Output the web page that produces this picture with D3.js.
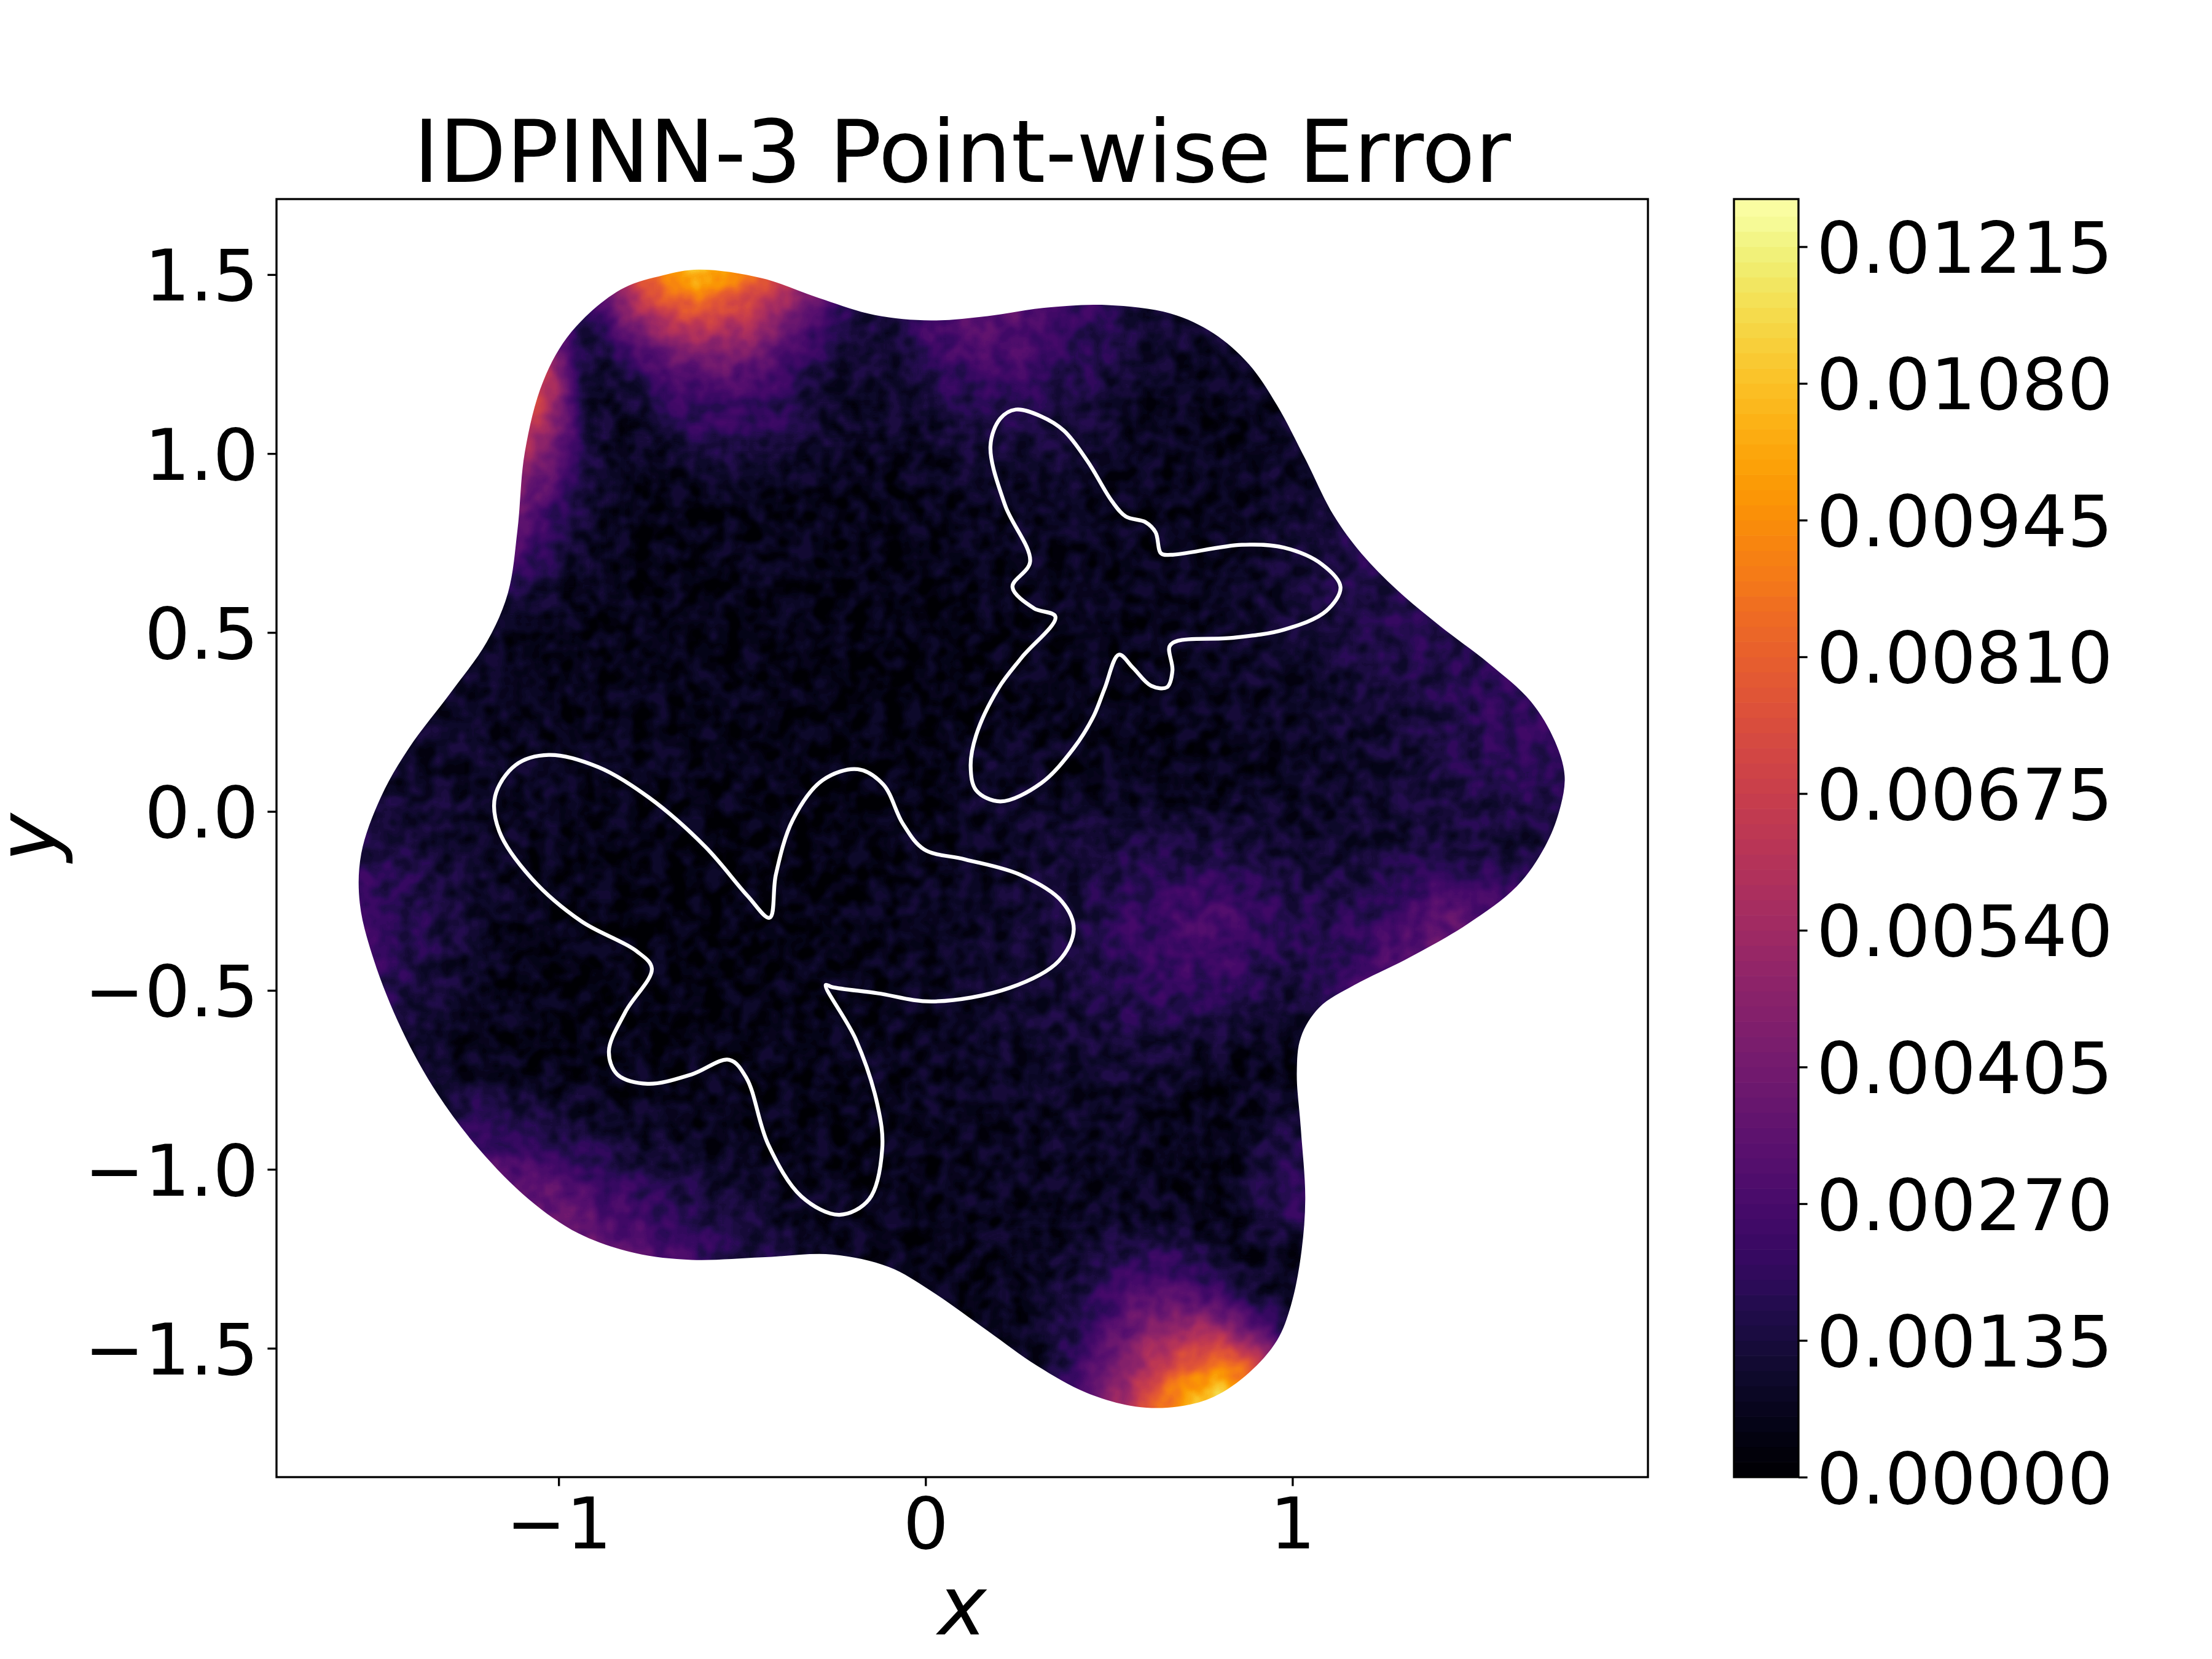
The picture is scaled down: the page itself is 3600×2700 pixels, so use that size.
<!DOCTYPE html>
<html>
<head>
<meta charset="utf-8">
<script src="https://cdnjs.cloudflare.com/ajax/libs/d3/7.8.5/d3.min.js"></script>
<style>
html,body{margin:0;padding:0;background:#fff}
svg{display:block}
text{font-family:"DejaVu Sans";fill:#000}
</style>
</head>
<body>
<script>
// ---- Chart text and ticks
const titleText = "IDPINN-3 Point-wise Error";
const xTicks = [-1, 0, 1];
const yTicks = [-1.5, -1, -0.5, 0, 0.5, 1, 1.5];
const xDomain = [-1.769, 1.969];
const yDomain = [-1.86, 1.711];
const colorMax = 0.01262;
const colorStep = 0.00015;
const colorTicks = [0, 0.00135, 0.0027, 0.00405, 0.0054, 0.00675, 0.0081, 0.00945, 0.0108, 0.01215];

// ---- Curves, in data units [x, y]
const outerBoundary = [[-.619,1.514],[-.715,1.498],[-.831,1.458],[-.965,1.34],[-1.042,1.202],[-1.092,1.005],[-1.112,.788],[-1.138,.611],[-1.196,.473],[-1.292,.335],[-1.408,.177],[-1.485,.039],[-1.538,-.118],[-1.542,-.256],[-1.504,-.414],[-1.427,-.611],[-1.331,-.788],[-1.215,-.946],[-1.081,-1.084],[-.946,-1.179],[-.792,-1.234],[-.638,-1.253],[-.446,-1.246],[-.254,-1.238],[-.1,-1.273],[.015,-1.34],[.169,-1.451],[.304,-1.549],[.438,-1.624],[.573,-1.663],[.688,-1.663],[.785,-1.636],[.881,-1.569],[.958,-1.478],[.996,-1.38],[1.023,-1.242],[1.035,-1.084],[1.023,-.887],[1.012,-.729],[1.023,-.631],[1.073,-.548],[1.169,-.485],[1.323,-.406],[1.477,-.315],[1.612,-.209],[1.688,-.099],[1.727,0],[1.742,.099],[1.715,.197],[1.65,.307],[1.535,.414],[1.4,.52],[1.285,.619],[1.188,.721],[1.112,.828],[1.035,.985],[.958,1.135],[.881,1.25],[.785,1.336],[.669,1.391],[.496,1.415],[.323,1.407],[.169,1.384],[.015,1.372],[-.138,1.387],[-.292,1.435],[-.446,1.49]];
const largeButterfly = [[-.425,-.297],[-.408,-.177],[-.362,-.024],[-.281,.087],[-.185,.118],[-.115,.075],[-.062,-.034],[-.004,-.106],[.108,-.134],[.258,-.177],[.372,-.252],[.404,-.33],[.363,-.418],[.229,-.493],[.019,-.531],[-.131,-.508],[-.254,-.491],[-.272,-.485],[-.19,-.637],[-.131,-.82],[-.118,-.942],[-.154,-1.084],[-.235,-1.127],[-.338,-1.076],[-.429,-.93],[-.488,-.745],[-.535,-.694],[-.638,-.735],[-.758,-.761],[-.84,-.735],[-.863,-.67],[-.818,-.56],[-.746,-.439],[-.788,-.39],[-.938,-.307],[-1.073,-.188],[-1.162,-.055],[-1.173,.043],[-1.117,.13],[-1.027,.158],[-.892,.124],[-.754,.039],[-.6,-.099],[-.485,-.236]];
const smallButterfly = [[.246,1.123],[.315,1.104],[.377,1.064],[.442,.978],[.508,.867],[.546,.824],[.6,.808],[.627,.78],[.642,.721],[.669,.717],[.862,.745],[.977,.737],[1.081,.69],[1.131,.627],[1.092,.56],[.977,.508],[.835,.485],[.688,.477],[.665,.461],[.673,.394],[.658,.347],[.615,.351],[.565,.402],[.527,.438],[.488,.343],[.458,.266],[.404,.177],[.315,.079],[.204,.028],[.138,.059],[.123,.126],[.138,.213],[.198,.343],[.262,.43],[.354,.544],[.295,.568],[.237,.627],[.285,.698],[.217,.855],[.177,1.021],[.204,1.098]];

// ---- Error field (units of 0.001)
const fieldX = [-1.6,-1.4,-1.2,-1,-.8,-.6,-.4,-.2,0,.2,.4,.6,.8,1,1.2,1.4,1.6,1.8];
const fieldY = [1.7,1.5,1.3,1.1,.9,.7,.5,.3,.1,-.1,-.3,-.5,-.7,-.9,-1.1,-1.3,-1.5,-1.7];
const fieldValues = [
 [1,1,2,2,3,4,3,2,2.5,3,2.5,1.5,1,1,1,1,1,1],
 [1,1,2,2,3,4,3,2,3.6,3.8,2.5,1.5,1,1,1,1,1,1],
 [1,1,4,1.2,2.2,3.6,2.6,1.2,2.2,3,2,1,.9,1,1,1,1,1],
 [1,2,4,1.2,.6,2.2,2,.8,1,1.6,1.3,.7,.6,.8,1,1,1,1],
 [1,2,3,1,.5,.5,.6,.5,.6,.8,.8,.7,.6,.9,1.3,1,1,1],
 [1,1.5,1.1,.7,.5,.5,.6,.5,.5,.6,.7,.6,.6,1.1,1.6,1.5,1,1],
 [1,1,.7,.6,.5,.5,.5,.4,.4,.5,.6,.6,.9,1,1.5,1.8,1.6,1.5],
 [1,1,.8,.6,.6,.5,.5,.4,.4,.5,.6,.6,.7,.8,1.1,1.4,2.1,2],
 [1,.9,.8,.7,.6,.6,.5,.4,.4,1,.6,.5,.5,.7,.9,1.3,1.8,2],
 [1.6,1.3,.8,.6,.5,.4,.4,.4,.6,.8,1.1,1.4,1.3,1,1,1.2,1,1.2],
 [2.8,1.8,.9,.5,.4,.4,.4,.5,.7,.9,1.3,2.2,2.8,1.7,1.7,3.4,3,2],
 [2.6,1.4,.6,.4,.4,.4,.5,.5,.7,.9,1.2,1.9,2.1,1.1,2.6,3.8,3,2],
 [1.2,.9,.5,.4,.5,.5,.5,.6,.7,.8,1,1.1,.6,.4,1,1.5,1.5,1],
 [1,1.5,2.2,1.3,.8,.6,.5,.5,.6,.7,.8,.7,.4,1.5,1,1,1,1],
 [1.5,3,4,3.6,2.2,1.4,.8,.6,.6,.7,.7,.8,.4,2.2,1.5,1,1,1],
 [2,3,4.6,4.6,3.8,2.4,1.3,.8,.6,.6,.9,1.3,.7,.6,1,1,1,1],
 [1,1,2,3,2.4,1.2,.8,.6,.5,.4,1.2,3.2,4.4,2.6,1,1,1,1],
 [1,1,1,1,1,1,1,.6,.4,.4,1.4,4,6,3,1,1,1,1]
];
const leftHotX = [-1.3,-1.2,-1.1,-1,-.9];
const leftHotY = [1.35,1.25,1.15,1.05,.95,.85,.75,.65];
const leftHotValues = [
 [5,5,6,3,.8],
 [7.5,7.5,8,5.5,.7],
 [8,8,8.5,5.5,.9],
 [6.5,6.5,6.5,4,1],
 [5,5,5,2.8,1],
 [4,4,4,2,.9],
 [3.2,3.2,3.2,1.4,.8],
 [1.8,1.8,1.8,1,.7]
];
const topHotX = [-.9,-.8,-.7,-.6,-.5,-.4,-.3,-.2,-.1];
const topHotY = [1.65,1.55,1.45,1.35,1.25,1.15];
const topHotValues = [
 [3,6,11,12.5,10,7.5,5,2,1.5],
 [3,6,10.5,12,9.5,7.5,5,2,1.5],
 [3,6.5,9,9.4,8,6.5,3.8,1.6,1.4],
 [1.2,3.8,5.6,6.2,5.6,4.4,2.4,1.3,1.2],
 [.9,1.8,3.2,3.8,3.6,2.8,1.5,1,1],
 [.7,.9,1.8,2.2,2.2,1.8,1,.8,.8]
];
const bottomHotX = [.2,.3,.4,.5,.6,.7,.8,.9,1,1.1];
const bottomHotY = [-1.25,-1.35,-1.45,-1.55,-1.65,-1.75,-1.85];
const bottomHotValues = [
 [.6,.7,1,1.4,1.9,1.8,1.1,.7,.7,.7],
 [.6,.8,1.3,2.2,3.2,3,2,1,.7,.7],
 [.6,.7,1.5,2.8,4.3,5.4,5.4,3.3,1.3,.9],
 [.6,.8,1.8,3.6,5.6,7.6,9.2,7.6,2.8,1.2],
 [.6,1,2.5,4.6,7.3,10.2,12,9.8,3.4,1.4],
 [.6,1,2.5,4.6,7.3,10.2,12,9.8,3.4,1.4],
 [.6,1,2.5,4.6,7.3,10.2,12,9.8,3.4,1.4]
];

// ---- Layout
const W = 3600, H = 2700;
const plot = {left: 450, right: 2682, top: 324, bottom: 2404};
const bar = {left: 2822, right: 2927};
const tickLen = 14.6, tickPad = 14.6, lineW = 3.33, tickFont = 116.7, titleFont = 141.7, labelFont = 133.3;

const x = d3.scaleLinear().domain(xDomain).range([plot.left, plot.right]);
const y = d3.scaleLinear().domain(yDomain).range([plot.bottom, plot.top]);
const c = d3.scaleLinear().domain([0, colorMax]).range([plot.bottom, plot.top]);
const colour = v => d3.interpolateInferno(Math.min(1, v / colorMax));
const fmtMinus = s => s.replace("-", "\u2212");
const levels = d3.range(0, colorMax, colorStep);

const svg = d3.select("body").append("svg").attr("width", W).attr("height", H).attr("viewBox", `0 0 ${W} ${H}`);
svg.append("rect").attr("width", W).attr("height", H).attr("fill", "#fff");

const defs = svg.append("defs");
const curve = d3.line().x(d => x(d[0])).y(d => y(d[1])).curve(d3.curveCatmullRomClosed.alpha(0.5));
defs.append("clipPath").attr("id", "domain").append("path").attr("d", curve(outerBoundary));
const blur = (id, sd) => defs.append("filter").attr("id", id).attr("filterUnits", "userSpaceOnUse")
  .attr("x", 0).attr("y", 0).attr("width", W).attr("height", H)
  .attr("color-interpolation-filters", "sRGB")
  .append("feGaussianBlur").attr("stdDeviation", sd);
blur("blurCoarse", 42);
blur("blurFine", 26);

// The field is drawn as grey (value / colorMax) and only then mapped through the colour levels,
// so smoothing happens in value space. A fine noise stands in for the mesh texture of the reference.
const tex = defs.append("filter").attr("id", "mesh").attr("filterUnits", "userSpaceOnUse")
  .attr("x", 0).attr("y", 0).attr("width", W).attr("height", H)
  .attr("color-interpolation-filters", "sRGB");
tex.append("feTurbulence").attr("type", "fractalNoise").attr("baseFrequency", 0.034).attr("numOctaves", 2).attr("seed", 4).attr("result", "n");
tex.append("feColorMatrix").attr("in", "n").attr("type", "matrix")
  .attr("values", "2.2 0 0 0 -0.6  2.2 0 0 0 -0.6  2.2 0 0 0 -0.6  0 0 0 0 1").attr("result", "g");
tex.append("feComposite").attr("in", "SourceGraphic").attr("in2", "g").attr("operator", "arithmetic")
  .attr("k1", 0).attr("k2", 1).attr("k3", 0.085).attr("k4", -0.0425).attr("result", "v");
const table = levels.map(l => d3.rgb(colour(l + colorStep / 2)));
const transfer = tex.append("feComponentTransfer").attr("in", "v");
[["feFuncR", "r"], ["feFuncG", "g"], ["feFuncB", "b"]].forEach(([fn, ch]) =>
  transfer.append(fn).attr("type", "discrete").attr("tableValues", table.map(t => (t[ch] / 255).toFixed(4)).join(" ")));

// ---- Error field
const grey = v => { const g = Math.round(255 * Math.min(1, v / colorMax)); return `rgb(${g},${g},${g})`; };
const field = svg.append("g").attr("clip-path", "url(#domain)").append("g").attr("filter", "url(#mesh)");
function cells(xs, ys, vals, step, filter) {
  const rows = ys.flatMap((yv, i) => xs.map((xv, j) => ({xv, yv, v: vals[i][j] * 0.001})));
  field.append("g").attr("filter", `url(#${filter})`).selectAll("rect").data(rows).join("rect")
    .attr("x", d => x(d.xv - step / 2) - 1)
    .attr("y", d => y(d.yv + step / 2) - 1)
    .attr("width", d => x(d.xv + step / 2) - x(d.xv - step / 2) + 2)
    .attr("height", d => y(d.yv - step / 2) - y(d.yv + step / 2) + 2)
    .attr("fill", d => grey(d.v));
}
cells(fieldX, fieldY, fieldValues, 0.2, "blurCoarse");
cells(leftHotX, leftHotY, leftHotValues, 0.1, "blurFine");
cells(topHotX, topHotY, topHotValues, 0.1, "blurFine");
cells(bottomHotX, bottomHotY, bottomHotValues, 0.1, "blurFine");

// ---- Butterfly outlines
svg.selectAll("path.hole").data([largeButterfly, smallButterfly]).join("path")
  .attr("class", "hole").attr("d", curve).attr("fill", "none")
  .attr("stroke", "#fff").attr("stroke-width", 6.25).attr("stroke-linejoin", "round");

// ---- Axes
const xAxis = d3.axisBottom(x).tickValues(xTicks).tickSize(tickLen).tickSizeOuter(0).tickPadding(tickPad)
  .tickFormat(d => fmtMinus(String(d)));
const yAxis = d3.axisLeft(y).tickValues(yTicks).tickSize(tickLen).tickSizeOuter(0).tickPadding(tickPad)
  .tickFormat(d => fmtMinus(d3.format(".1f")(d)));
function styleAxis(g) {
  g.select(".domain").remove();
  g.selectAll("line").attr("stroke", "#000").attr("stroke-width", lineW);
  g.selectAll("text").attr("font-family", "DejaVu Sans").attr("font-size", tickFont).attr("fill", "#000");
}
const centreLabels = g => g.selectAll("text").attr("dy", "0.36em");
svg.append("g").attr("transform", `translate(0,${plot.bottom})`).call(xAxis).call(styleAxis)
  .call(g => g.selectAll("text").attr("dy", "0.74em"));
svg.append("g").attr("transform", `translate(${plot.left},0)`).call(yAxis).call(styleAxis).call(centreLabels);
svg.append("rect").attr("x", plot.left).attr("y", plot.top)
  .attr("width", plot.right - plot.left).attr("height", plot.bottom - plot.top)
  .attr("fill", "none").attr("stroke", "#000").attr("stroke-width", lineW);

svg.append("text").attr("x", (plot.left + plot.right) / 2).attr("y", 296).attr("text-anchor", "middle")
  .attr("font-size", titleFont).text(titleText);
svg.append("text").attr("x", 1566).attr("y", 2660).attr("text-anchor", "middle")
  .attr("font-size", labelFont).attr("font-style", "italic").text("x");
svg.append("text").attr("transform", "translate(90,1363) rotate(-90)").attr("text-anchor", "middle")
  .attr("font-size", labelFont).attr("font-style", "italic").text("y");

// ---- Colour bar
svg.append("g").selectAll("rect").data(levels).join("rect")
  .attr("x", bar.left).attr("width", bar.right - bar.left)
  .attr("y", d => c(Math.min(colorMax, d + colorStep)))
  .attr("height", d => c(d) - c(Math.min(colorMax, d + colorStep)) + 0.6)
  .attr("fill", d => colour(d + colorStep / 2));
const cAxis = d3.axisRight(c).tickValues(colorTicks).tickSize(tickLen).tickSizeOuter(0).tickPadding(tickPad)
  .tickFormat(d3.format(".5f"));
svg.append("g").attr("transform", `translate(${bar.right},0)`).call(cAxis).call(styleAxis).call(centreLabels);
svg.append("rect").attr("x", bar.left).attr("y", plot.top)
  .attr("width", bar.right - bar.left).attr("height", plot.bottom - plot.top)
  .attr("fill", "none").attr("stroke", "#000").attr("stroke-width", lineW);
</script>
</body>
</html>
